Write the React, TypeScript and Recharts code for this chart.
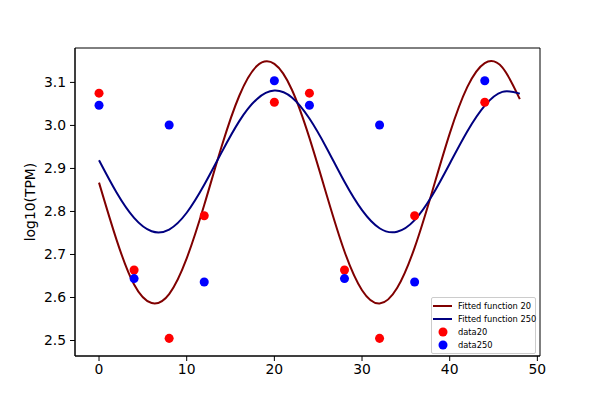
import React from 'react';
import { ComposedChart, Line, Scatter, XAxis, YAxis, Legend, Label, ReferenceArea } from 'recharts';

// fitted curves, every 2 h
const fitTimes = [0, 2, 4, 6, 8, 10, 12, 14, 16, 18, 20, 22, 24, 26, 28, 30, 32, 34, 36, 38, 40, 42, 44, 46, 48];
const fit20 = [
  2.867, 2.734, 2.630, 2.587, 2.608, 2.691, 2.815, 2.952, 3.069, 3.138, 3.143, 3.083, 2.971,
  2.836, 2.707, 2.617, 2.586, 2.622, 2.716, 2.846, 2.981, 3.089, 3.145, 3.135, 3.061,
];
const fit250 = [
  2.919, 2.844, 2.785, 2.754, 2.758, 2.797, 2.862, 2.938, 3.010, 3.061, 3.081, 3.065, 3.016,
  2.946, 2.869, 2.803, 2.761, 2.753, 2.780, 2.837, 2.911, 2.986, 3.046, 3.078, 3.074,
];

// measured samples
const sampleTimes = [0, 4, 8, 12, 20, 24, 28, 32, 36, 44];
const data20 = [3.075, 2.664, 2.505, 2.79, 3.054, 3.075, 2.664, 2.505, 2.79, 3.054];
const data250 = [3.047, 2.644, 3.001, 2.636, 3.104, 3.047, 2.644, 3.001, 2.636, 3.104];

const xTicks = [0, 10, 20, 30, 40, 50];
const yTicks = [2.5, 2.6, 2.7, 2.8, 2.9, 3.0, 3.1];
const xDomain = [-2.74, 50.3];
const yDomain = [2.464, 3.18];

const toPoints = (xs: number[], ys: number[]) => xs.map((t, i) => ({ t, v: ys[i] }));

const fitData20 = toPoints(fitTimes, fit20);
const fitData250 = toPoints(fitTimes, fit250);
const pts20 = toPoints(sampleTimes, data20);
const pts250 = toPoints(sampleTimes, data250);

const FONT = '"DejaVu Sans", sans-serif';
const tickStyle = { fill: '#000', fontSize: 13.9, fontFamily: FONT };

const LegendBox = (props: any) => {
  const payload = (props.payload || []).slice();
  // lines first, then the scatter sets, like the original
  payload.sort((a: any, b: any) => (a.type === 'line' ? 0 : 1) - (b.type === 'line' ? 0 : 1));
  return (
    <div
      style={{
        border: '1px solid #cccccc',
        borderRadius: 2,
        background: 'rgba(255,255,255,0.8)',
        padding: '1px 0',
        fontFamily: FONT,
        fontSize: 8.3,
        color: '#000',
        boxSizing: 'border-box',
        width: 105,
      }}
    >
      {payload.map((p: any) => (
        <div key={p.value} style={{ display: 'flex', alignItems: 'center', height: 13.2 }}>
          <svg width={21} height={12} style={{ marginLeft: 1, flex: 'none' }}>
            {p.type === 'line' ? (
              <line x1={0} y1={6} x2={19} y2={6} stroke={p.color} strokeWidth={2} />
            ) : (
              <circle cx={10} cy={6} r={4.5} fill={p.color} />
            )}
          </svg>
          <span style={{ marginLeft: 4, whiteSpace: 'nowrap' }}>{p.value}</span>
        </div>
      ))}
    </div>
  );
};

const YLabel = (props: any) => {
  const { viewBox } = props;
  const x = viewBox.x + 5;
  const y = viewBox.y + viewBox.height / 2;
  return (
    <text
      x={x}
      y={y}
      transform={`rotate(-90, ${x}, ${y})`}
      textAnchor="middle"
      dominantBaseline="central"
      fill="#000"
      fontSize={13.9}
      fontFamily={FONT}
    >
      log10(TPM)
    </text>
  );
};

export default function App() {
  return (
    <div style={{ position: 'absolute', left: 0, top: 0, width: 600, height: 400, background: '#fff' }}>
      <ComposedChart width={600} height={400} margin={{ top: 48, right: 60, bottom: 14, left: 25 }}>
        <XAxis
          dataKey="t"
          type="number"
          domain={xDomain}
          ticks={xTicks}
          height={30}
          tick={tickStyle}
          tickSize={5}
          tickMargin={3}
          axisLine={{ stroke: '#000', strokeWidth: 1 }}
          tickLine={{ stroke: '#000', strokeWidth: 1 }}
        />
        <YAxis
          type="number"
          domain={yDomain}
          ticks={yTicks}
          width={50}
          tick={tickStyle}
          tickFormatter={(v: number) => v.toFixed(1)}
          tickSize={5}
          tickMargin={4}
          axisLine={{ stroke: '#000', strokeWidth: 1 }}
          tickLine={{ stroke: '#000', strokeWidth: 1 }}
        >
          <Label content={<YLabel />} />
        </YAxis>
        {/* plot frame */}
        <ReferenceArea
          x1={xDomain[0]}
          x2={xDomain[1]}
          y1={yDomain[0]}
          y2={yDomain[1]}
          fill="none"
          stroke="#000"
          strokeWidth={1}
          ifOverflow="visible"
        />
        <Scatter name="data20" data={pts20} dataKey="v" fill="#ff0000" legendType="circle" isAnimationActive={false} />
        <Scatter name="data250" data={pts250} dataKey="v" fill="#0000ff" legendType="circle" isAnimationActive={false} />
        <Line
          name="Fitted function 20"
          data={fitData20}
          dataKey="v"
          type="natural"
          stroke="#800000"
          strokeWidth={2}
          dot={false}
          legendType="line"
          isAnimationActive={false}
        />
        <Line
          name="Fitted function 250"
          data={fitData250}
          dataKey="v"
          type="natural"
          stroke="#000080"
          strokeWidth={2}
          dot={false}
          legendType="line"
          isAnimationActive={false}
        />
        <Legend
          layout="vertical"
          align="center"
          verticalAlign="middle"
          content={<LegendBox />}
          wrapperStyle={{ left: 431, top: 297, width: 105, height: 56 }}
        />
      </ComposedChart>
    </div>
  );
}
